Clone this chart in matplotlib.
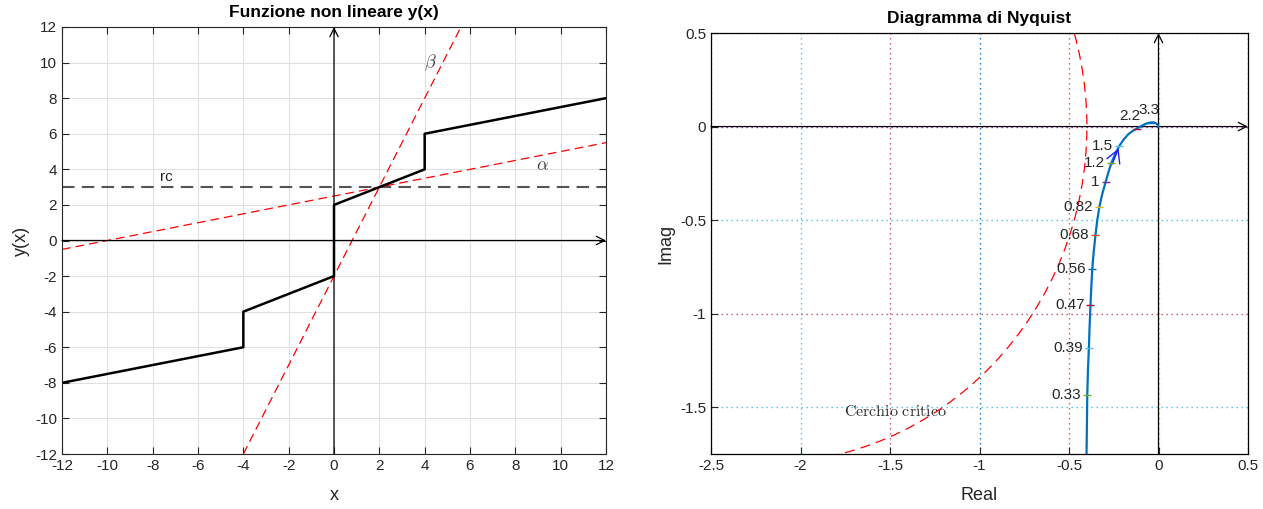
import matplotlib
matplotlib.use('Agg')
import matplotlib.pyplot as plt
from matplotlib.patches import Circle
from matplotlib.ticker import FuncFormatter

plt.rcParams['font.family'] = ['Liberation Sans', 'DejaVu Sans']
plt.rcParams['axes.unicode_minus'] = False
plt.rcParams['mathtext.fontset'] = 'cm'

# ---------------- data ----------------
# non linear function (piecewise, with jumps)
x_nl = [-12, -4, -4, 0, 0, 4, 4, 12]
y_nl = [-8, -6, -4, -2, 2, 4, 6, 8]
rc = 3            # horizontal reference line
x_cross = 2       # abscissa where alpha/beta lines meet rc
alpha = 0.25      # slope of lower sector line
beta = 2.5        # slope of upper sector line

# Nyquist curve
nyq_re = [-0.402, -0.400, -0.398, -0.394, -0.389, -0.385, -0.380, -0.375, -0.370,
          -0.362, -0.352, -0.342, -0.330, -0.314, -0.296, -0.280, -0.264, -0.242,
          -0.218, -0.195, -0.170, -0.145, -0.119, -0.090, -0.065, -0.049, -0.030,
          -0.015, -0.005, 0.0]
nyq_im = [-1.75, -1.60, -1.435, -1.30, -1.186, -1.07, -0.952, -0.85, -0.761,
          -0.67, -0.579, -0.50, -0.428, -0.36, -0.298, -0.245, -0.196, -0.147,
          -0.102, -0.070, -0.042, -0.024, -0.010, 0.006, 0.017, 0.021, 0.023,
          0.018, 0.010, 0.0]

freq_labels = ['0.33', '0.39', '0.47', '0.56', '0.68', '0.82', '1', '1.2', '1.5', '2.2', '3.3']
freq_re = [-0.398, -0.389, -0.380, -0.370, -0.352, -0.330, -0.296, -0.264, -0.218, -0.119, -0.049]
freq_im = [-1.435, -1.186, -0.952, -0.761, -0.579, -0.428, -0.298, -0.196, -0.102, -0.012, 0.020]

left_ticks = list(range(-12, 13, 2))
re_ticks = [-2.5, -2, -1.5, -1, -0.5, 0, 0.5]
im_ticks = [-1.5, -1, -0.5, 0, 0.5]

# ---------------- styles ----------------
marker_cols = ['#77AC30', '#4DBEEE', '#A2142F', '#0072BD', '#D95319', '#EDB120',
               '#7E2F8E', '#77AC30', '#4DBEEE', '#A2142F', '#0072BD']
px = 72 / 100.0
label_offsets = [(-6, 0)] * 9 + [(3, 13), (10, 13)]
vgrid_cols = ['#77AC30', '#4DBEEE', '#C0506A', '#0072BD', '#C8603A', '#EDB120', '#7E2F8E']
hgrid_cols = ['#4DBEEE', '#C0506A', '#4DBEEE', '#7E2F8E', '#C9A040']
axcol = '#262626'

W, H = 1263, 509
fig = plt.figure(figsize=(W / 100, H / 100), dpi=100)
ax1 = fig.add_axes([62 / W, 55 / H, 544 / W, 427 / H])
ax2 = fig.add_axes([711 / W, 55 / H, 537 / W, 421 / H])

# ---------------- left plot ----------------
ax1.set_xlim(-12, 12)
ax1.set_ylim(-12, 12)
ax1.set_xticks(left_ticks)
ax1.set_yticks(left_ticks)
ax1.grid(True, color='#e0e0e0', lw=0.8)
ax1.set_axisbelow(True)
for s in ax1.spines.values():
    s.set_color(axcol)
    s.set_linewidth(0.8)
ax1.tick_params(direction='in', top=True, right=True, length=5, width=0.8,
                colors=axcol, labelsize=11, labelcolor='#262626')

arr = dict(arrowstyle='->,head_length=0.6,head_width=0.3', lw=0.9, color='k',
           shrinkA=0, shrinkB=0)
ax1.annotate('', xy=(12, 0), xytext=(-12, 0), arrowprops=arr, annotation_clip=False)
ax1.annotate('', xy=(0, 12), xytext=(0, -12), arrowprops=arr, annotation_clip=False)

l_rc = ax1.axhline(rc, color='#555555', lw=1.5, ls='--')
l_rc.set_dashes((6, 3.5))
la = ax1.axline((x_cross, rc), slope=alpha, color='red', lw=0.9, ls='--')
la.set_dashes((7, 4))
lb = ax1.axline((x_cross, rc), slope=beta, color='red', lw=0.9, ls='--')
lb.set_dashes((7, 4))
ax1.plot(x_nl, y_nl, color='k', lw=1.8)

ax1.text(-7.4, 3.15, 'rc', fontsize=11, ha='center', va='bottom', color='#262626')
ax1.text(9.2, 4.2, r'$\alpha$', fontsize=13, ha='center', va='center', color='#404040')
ax1.text(4.25, 10.0, r'$\beta$', fontsize=13, ha='center', va='center', color='#404040')

ax1.set_title('Funzione non lineare y(x)', fontsize=12.5, fontweight='bold', pad=7)
ax1.set_xlabel('x', fontsize=13, color='#262626', labelpad=10)
ax1.set_ylabel('y(x)', fontsize=13, color='#262626', labelpad=4)

# ---------------- right plot ----------------
ax2.set_xlim(-2.5, 0.5)
ax2.set_ylim(-1.75, 0.5)
ax2.set_xticks(re_ticks)
ax2.set_yticks(im_ticks)
fmt = FuncFormatter(lambda v, p: f'{v:g}')
ax2.xaxis.set_major_formatter(fmt)
ax2.yaxis.set_major_formatter(fmt)
for s in ax2.spines.values():
    s.set_color('k')
    s.set_linewidth(0.9)
ax2.tick_params(direction='in', length=5, width=0.8, colors=axcol, labelsize=11,
                labelcolor='#262626')

for v, c in zip(re_ticks, vgrid_cols):
    g = ax2.axvline(v, color=c, lw=1.0, zorder=1)
    g.set_dashes((1, 2.6))
for v, c in zip(im_ticks, hgrid_cols):
    g = ax2.axhline(v, color=c, lw=1.0, zorder=1)
    g.set_dashes((1, 2.6))

ax2.annotate('', xy=(0.5, 0), xytext=(-2.5, 0), arrowprops=arr, annotation_clip=False, zorder=3)
ax2.annotate('', xy=(0, 0.5), xytext=(0, -1.75), arrowprops=arr, annotation_clip=False, zorder=3)

center = -(1 / alpha + 1 / beta) / 2
radius = (1 / alpha - 1 / beta) / 2
circ = Circle((center, 0), radius, fill=False, ec='red', lw=0.9, zorder=2)
circ.set_linestyle((0, (8, 5)))
ax2.add_patch(circ)
ax2.text(-1.755, -1.525, r'$\mathrm{Cerchio\ critico}$', fontsize=11.5, ha='left',
         va='center', color='#303030')

ax2.plot(nyq_re, nyq_im, color='#0072BD', lw=1.6, zorder=4)
ax2.annotate('', xy=(freq_re[8] - 0.005, freq_im[8] - 0.015),
             xytext=(freq_re[7] + 0.005, freq_im[7] - 0.005),
             arrowprops=dict(arrowstyle='->,head_length=0.9,head_width=0.5', lw=1.0,
                             color='#2020ff', shrinkA=0, shrinkB=0), zorder=5)

for lab, xr, yi, c, off in zip(freq_labels, freq_re, freq_im, marker_cols, label_offsets):
    ax2.plot([xr], [yi], marker='_', ms=6, mew=1.0, color=c, zorder=5)
    ax2.annotate(lab, xy=(xr, yi), xytext=(off[0] * px, off[1] * px),
                 textcoords='offset points', ha='right', va='center', fontsize=11,
                 color='#262626', zorder=6)

ax2.set_title('Diagramma di Nyquist', fontsize=12.5, fontweight='bold', pad=7)
ax2.set_xlabel('Real', fontsize=13, color='#262626', labelpad=10)
ax2.set_ylabel('Imag', fontsize=13, color='#262626', labelpad=4)

fig.savefig('out.png', dpi=100)
